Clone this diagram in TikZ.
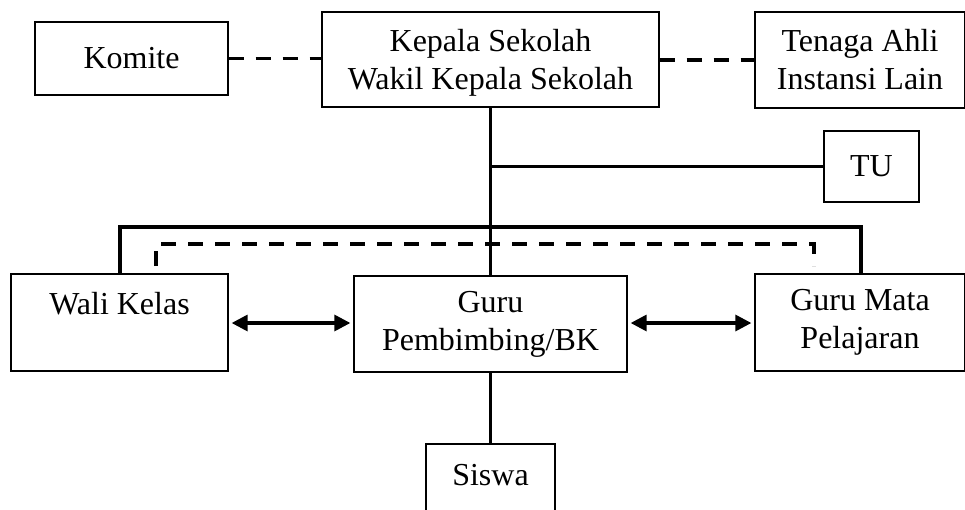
\documentclass[tikz,border=0pt]{standalone}
\usepackage{fontspec}
\setmainfont{Liberation Serif}
\usetikzlibrary{arrows.meta}

\tikzset{
  box/.style={draw,line width=1.3pt,align=center,inner sep=0pt,
    font=\fontsize{32}{38}\selectfont},
  link/.style={line width=3.2pt},
  dashlink/.style={line width=3.2pt,dash pattern=on 15pt off 12pt},
  both/.style={line width=3.2pt,{Triangle[length=16pt,width=16pt]}-{Triangle[length=16pt,width=16pt]},
    shorten <=3pt,shorten >=3pt}
}

\begin{document}
\begin{tikzpicture}[x=1pt,y=-1pt]
\useasboundingbox (0,0) rectangle (965,509);
\clip (0,0) rectangle (965,509);

% \draw boxes
\node[box,minimum width=193pt,minimum height=73pt] (komite) at (131.5,58.5) {Komite};
\node[box,minimum width=337pt,minimum height=95pt,text depth=0pt] (kepala) at (490.5,59.5)
  {Kepala Sekolah\\Wakil Kepala Sekolah};
\node[box,minimum width=210pt,minimum height=96pt] (ahli) at (860,60)
  {Tenaga Ahli\\Instansi Lain};
\node[box,minimum width=95pt,minimum height=71pt] (tu) at (871.5,166.5) {TU};
\node[box,minimum width=217pt,minimum height=97pt] (wali) at (119.5,322.5) {Wali Kelas\\\mbox{}};
\node[box,minimum width=273pt,minimum height=96pt] (bk) at (490.5,324)
  {Guru\\Pembimbing/BK};
\node[box,minimum width=210pt,minimum height=97pt] (mapel) at (860,322.5)
  {Guru Mata\\Pelajaran};
\node[box,minimum width=129pt,minimum height=86pt,text depth=24pt] (siswa) at (490.5,487) {Siswa};

% \draw dashed links at the top
\draw[dashlink] (komite.east) -- (komite.east -| kepala.west);
\draw[dashlink] (ahli.west -| kepala.east) -- (ahli.west);

% \draw main line
\draw[link] (kepala.south) -- (bk.north);
\coordinate (tujoin) at (kepala.south |- tu.west);
\draw[link] (tujoin) -- (tu.west);
\coordinate (bar) at (490.5,227);
\draw[link] (wali.north -| 120,0) |- (bar) -| (mapel.north -| 861,0);
\draw[link] (bk.south) -- (siswa.north);

% \draw dashed bar
\coordinate (dleft) at (156,266);
\coordinate (dright) at (814,266);
\coordinate (dbar) at (490.5,244);
\draw[dashlink] (dleft) |- (dbar) -| (dright);

% \draw arrows
\draw[both] (wali.east |- 0,323) -- (bk.west |- 0,323);
\draw[both] (bk.east |- 0,323) -- (mapel.west |- 0,323);

\end{tikzpicture}
\end{document}
